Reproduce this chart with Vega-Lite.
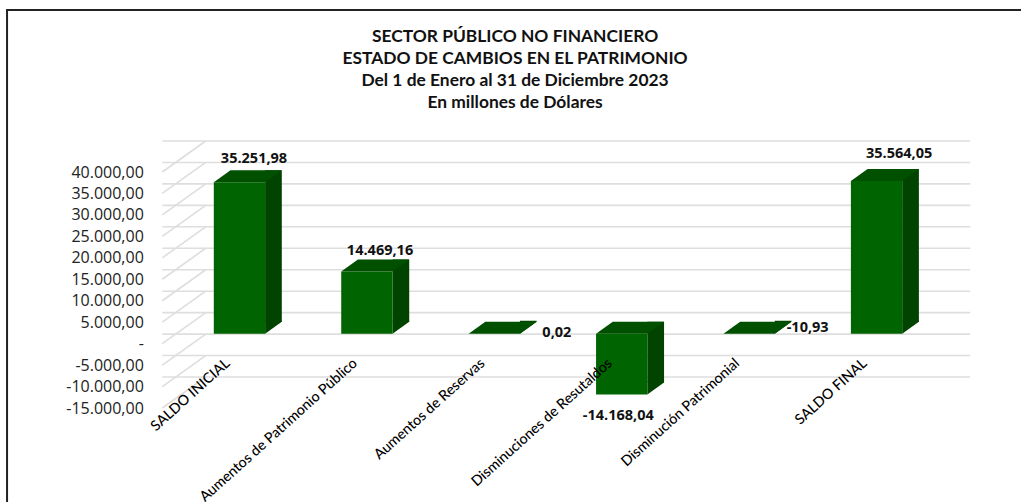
{
"$schema":"https://vega.github.io/schema/vega-lite/v6.json",
"width":764.5,"height":236,
"autosize":{"type":"none"},
"padding":{"left":162.3,"top":172,"right":94.2,"bottom":94},
"background":"white",
"config":{"view":{"stroke":null},"locale":{"number":{"decimal":",","thousands":".","grouping":[3],"currency":["",""],"minus":"-"}}},
"title":{"text":["SECTOR PÚBLICO NO FINANCIERO","ESTADO DE CAMBIOS EN EL PATRIMONIO","Del 1 de Enero al 31 de Diciembre 2023","En millones de Dólares"],"anchor":"middle","dx":-29.5,"offset":-105,"font":"Lato","fontWeight":"bold","fontSize":17.4,"lineHeight":22,"color":"#111111"},
"datasets":{
"filas":[
{"categoria":"SALDO INICIAL","valor":35251.98,"tope":35251.98,"piso":0},
{"categoria":"Aumentos de Patrimonio Público","valor":14469.16,"tope":14469.16,"piso":0},
{"categoria":"Aumentos de Reservas","valor":0.02,"tope":0.02,"piso":0},
{"categoria":"Disminuciones de Resutaldos","valor":-14168.04,"tope":0,"piso":-14168.04},
{"categoria":"Disminución Patrimonial","valor":-10.93,"tope":0,"piso":-10.93},
{"categoria":"SALDO FINAL","valor":35564.05,"tope":35564.05,"piso":0}
],
"marcas":[{"m":40000},{"m":35000},{"m":30000},{"m":25000},{"m":20000},{"m":15000},{"m":10000},{"m":5000},{"m":0},{"m":-5000},{"m":-10000},{"m":-15000}]
},
"resolve":{"axis":{"y":"independent"}},
"layer":[
{"data":{"name":"marcas"},"mark":{"type":"rule","stroke":"#dedede","strokeWidth":1.6,"xOffset":43.4,"x2Offset":43.4,"yOffset":-31},"encoding":{"y":{"field":"m","type":"quantitative","scale":{"domain":[-15000,40000],"nice":false,"zero":false},"axis":{"title":null,"values":[40000,35000,30000,25000,20000,15000,10000,5000,0,-5000,-10000,-15000],"grid":false,"domain":false,"ticks":false,"labelFont":"Open Sans","labelFontSize":16,"labelColor":"#222222","labelPadding":19,"labelOverlap":false,"labelSeparation":0,"format":",.2f","labelExpr":"datum.value==0?'-':datum.label"}}}},
{"data":{"name":"marcas"},"mark":{"type":"point","filled":false,"stroke":"#dedede","strokeWidth":1.6,"opacity":1,"size":4,"shape":"M-382.25,0 L-338.85,-31"},"encoding":{"y":{"field":"m","type":"quantitative","axis":null}}},
{"data":{"name":"filas"},"resolve":{"axis":{"y":"independent"}},"layer":[
{"mark":{"type":"bar","color":"#004400","width":16.7,"xOffset":47.45,"yOffset":-22,"y2Offset":-22},"encoding":{"x":{"field":"categoria","type":"nominal","sort":null,"scale":{"paddingInner":0,"paddingOuter":0},"axis":{"title":null,"domain":false,"ticks":false,"labelAngle":-42,"labelAlign":"right","labelBaseline":"middle","labelFont":"Lato","labelFontSize":14.3,"labelFontWeight":500,"labelColor":"#000000","offset":-47,"labelOffset":2,"labelPadding":0,"labelOverlap":false,"zindex":1,"labelLimit":400}},"y":{"field":"tope","type":"quantitative","axis":null},"y2":{"field":"piso"}}},
{"mark":{"type":"point","filled":true,"fill":"#004400","opacity":1,"size":4,"shape":"M39.1,-10 L55.8,-22 L55.8,-23 L39.1,-23 Z"},"encoding":{"x":{"field":"categoria","type":"nominal","sort":null},"y":{"field":"piso","type":"quantitative","axis":null}}},
{"mark":{"type":"bar","color":"#006400","width":51.3,"xOffset":13.45,"yOffset":-10,"y2Offset":-10},"encoding":{"x":{"field":"categoria","type":"nominal","sort":null},"y":{"field":"tope","type":"quantitative","axis":null},"y2":{"field":"piso"}}},
{"mark":{"type":"point","filled":true,"fill":"#005000","opacity":1,"size":4,"shape":"M-12.2,-10 L39.1,-10 L55.8,-22 L4.5,-22 Z"},"encoding":{"x":{"field":"categoria","type":"nominal","sort":null},"y":{"field":"tope","type":"quantitative","axis":null}}},
{"transform":[{"filter":"datum.categoria=='SALDO INICIAL'"}],"mark":{"type":"text","font":"Open Sans","fontWeight":"bold","fontSize":14.5,"color":"#111111","dx":28,"dy":-33.6},"encoding":{"x":{"field":"categoria","type":"nominal","sort":null},"y":{"field":"valor","type":"quantitative","axis":null},"text":{"field":"valor","format":",.2f"}}},
{"transform":[{"filter":"datum.categoria=='Aumentos de Patrimonio Público'"}],"mark":{"type":"text","font":"Open Sans","fontWeight":"bold","fontSize":14.5,"color":"#111111","dx":26.6,"dy":-31},"encoding":{"x":{"field":"categoria","type":"nominal","sort":null},"y":{"field":"valor","type":"quantitative","axis":null},"text":{"field":"valor","format":",.2f"}}},
{"transform":[{"filter":"datum.categoria=='Aumentos de Reservas'"}],"mark":{"type":"text","font":"Open Sans","fontWeight":"bold","fontSize":14.5,"color":"#111111","dx":76,"dy":-11},"encoding":{"x":{"field":"categoria","type":"nominal","sort":null},"y":{"field":"valor","type":"quantitative","axis":null},"text":{"field":"valor","format":",.2f"}}},
{"transform":[{"filter":"datum.categoria=='Disminuciones de Resutaldos'"}],"mark":{"type":"text","font":"Open Sans","fontWeight":"bold","fontSize":14.5,"color":"#111111","dx":10,"dy":12},"encoding":{"x":{"field":"categoria","type":"nominal","sort":null},"y":{"field":"valor","type":"quantitative","axis":null},"text":{"field":"valor","format":",.2f"}}},
{"transform":[{"filter":"datum.categoria=='Disminución Patrimonial'"}],"mark":{"type":"text","font":"Open Sans","fontWeight":"bold","fontSize":14.5,"color":"#111111","dx":72,"dy":-16},"encoding":{"x":{"field":"categoria","type":"nominal","sort":null},"y":{"field":"valor","type":"quantitative","axis":null},"text":{"field":"valor","format":",.2f"}}},
{"transform":[{"filter":"datum.categoria=='SALDO FINAL'"}],"mark":{"type":"text","font":"Open Sans","fontWeight":"bold","fontSize":14.5,"color":"#111111","dx":36,"dy":-37},"encoding":{"x":{"field":"categoria","type":"nominal","sort":null},"y":{"field":"valor","type":"quantitative","axis":null},"text":{"field":"valor","format":",.2f"}}}
]},
{"data":{"values":[{"marco":1}]},"mark":{"type":"point","filled":false,"stroke":"#222222","strokeWidth":2,"opacity":1,"size":4,"shape":"M-537.5,212 L-537.5,-280 L476.5,-280"},"encoding":{}}
]
}
